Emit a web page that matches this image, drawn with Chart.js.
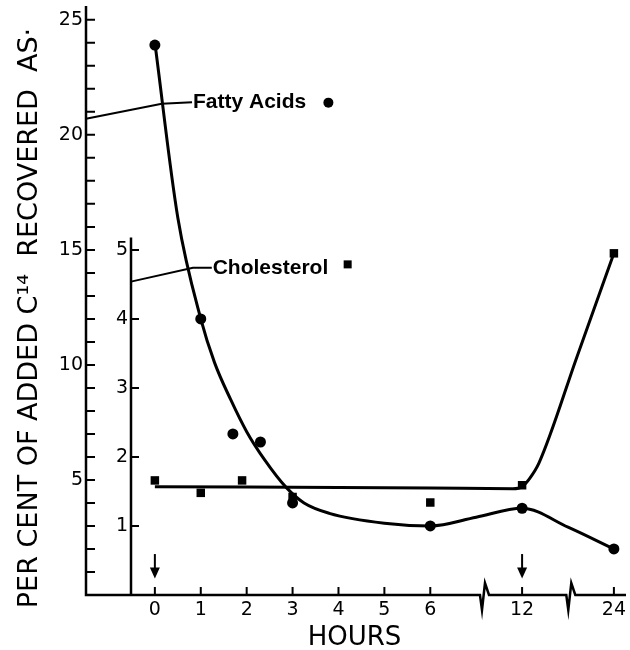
<!DOCTYPE html>
<html>
<head>
<meta charset="utf-8">
<script src="https://cdn.jsdelivr.net/npm/chart.js@4.4.0/dist/chart.umd.min.js"></script>
<style>
body { margin: 0; background: #fff; }
#wrap { width: 630px; height: 650px; }
</style>
</head>
<body>
<div id="wrap"><canvas id="chart"></canvas></div>
<script>
//hour axis, broken after 6 and after 12
const hourTickPos = [0, 1, 2, 3, 4, 5, 6, 8, 10];
const hourTickHours = [0, 1, 2, 3, 4, 5, 6, 12, 24];
const hourTickLabels = ['0', '1', '2', '3', '4', '5', '6', '12', '24'];

//y tick labels
const fattyTicks = [5, 10, 15, 20, 25];
const cholTicks = [1, 2, 3, 4, 5];

//measured points
const fattyHours = [0, 1, 1.7, 2.3, 3, 6, 12, 24];
const fattyValues = [23.9, 12.0, 7.0, 6.65, 4.0, 3.0, 3.77, 2.0];
const cholHours = [0, 1, 1.9, 3, 6, 12, 24];
const cholValues = [1.66, 1.48, 1.66, 1.42, 1.34, 1.59, 4.95];

//hand drawn curves
const fattyCurveHours = [0, 0.5, 1, 1.3, 1.65, 2, 2.4, 2.85, 3.25, 3.8, 5, 6, 9, 12, 18, 24];
const fattyCurveValues = [24, 16.4, 12, 10.1, 8.5, 7.1, 5.85, 4.7, 4.0, 3.55, 3.12, 3.0, 3.38, 3.77, 2.95, 2.0];
const cholCurveHours = [0, 6, 11.4, 12, 13, 14.2, 19.2, 24];
const cholCurveValues = [1.57, 1.55, 1.54, 1.57, 1.69, 1.91, 3.46, 4.95];

//injection arrows
const arrowHours = [0, 12];

const seriesNames = ['Fatty Acids', 'Cholesterol'];
const yTitle = 'PER CENT OF ADDED C\u00b9\u2074  RECOVERED  AS\u00b7';
const xTitle = 'HOURS';

const ink = '#000';
const tickFont = { family: 'DejaVu Sans', size: 19 };
const axisBreaks = [7.17, 9.05];

function hourToPos(h) {
    for (let i = 1; i < hourTickHours.length; i++) {
        if (h <= hourTickHours[i]) {
            const h0 = hourTickHours[i - 1], h1 = hourTickHours[i];
            const p0 = hourTickPos[i - 1], p1 = hourTickPos[i];
            return p0 + (h - h0) / (h1 - h0) * (p1 - p0);
        }
    }
    return hourTickPos[hourTickPos.length - 1];
}

function toPoints(hours, values) {
    return hours.map((h, i) => ({ x: hourToPos(h), y: values[i] }));
}

//no extra room for edge labels, the frame is fixed
function noEdgePadding(s) {
    s.paddingTop = 0;
    s.paddingBottom = 0;
    s.paddingLeft = 0;
    s.paddingRight = 0;
}

//axes, leaders, arrows and labels drawn like the paper figure
const paperAxes = {
    id: 'paperAxes',
    beforeDatasetsDraw(chart) {
        const { ctx, chartArea, scales: { x, y, y2 } } = chart;
        const base = chartArea.bottom;
        const outerX = y.right;
        const innerX = y2.right;
        ctx.save();
        ctx.strokeStyle = ink;
        ctx.fillStyle = ink;
        ctx.lineWidth = 2.5;

        ctx.beginPath();
        ctx.moveTo(outerX, chartArea.top);
        ctx.lineTo(outerX, base);
        axisBreaks.forEach(b => {
            const bx = x.getPixelForValue(b);
            ctx.lineTo(bx - 4, base);
            ctx.lineTo(bx - 2, base + 15);
            ctx.lineTo(bx + 1, base - 12);
            ctx.lineTo(bx + 5, base);
        });
        ctx.lineTo(chartArea.right + 2, base);
        ctx.stroke();

        ctx.beginPath();
        ctx.moveTo(innerX, base);
        ctx.lineTo(innerX, y2.getPixelForValue(5.18));
        ctx.stroke();

        //tick marks point inward
        ctx.lineWidth = 2;
        ctx.beginPath();
        y.ticks.forEach(t => {
            if (t.value > 0) {
                const py = y.getPixelForValue(t.value);
                ctx.moveTo(outerX, py);
                ctx.lineTo(outerX + 9, py);
            }
        });
        cholTicks.forEach(v => {
            const py = y2.getPixelForValue(v);
            ctx.moveTo(innerX, py);
            ctx.lineTo(innerX + 8, py);
        });
        hourTickPos.forEach(p => {
            const px = x.getPixelForValue(p);
            ctx.moveTo(px, base);
            ctx.lineTo(px, base - 8);
        });
        ctx.stroke();

        //arrows
        arrowHours.forEach(h => {
            const px = x.getPixelForValue(hourToPos(h));
            const top = y.getPixelForValue(1.78);
            const tip = y.getPixelForValue(0.72);
            ctx.beginPath();
            ctx.moveTo(px, top);
            ctx.lineTo(px, tip - 6);
            ctx.stroke();
            ctx.beginPath();
            ctx.moveTo(px - 5, tip - 11);
            ctx.lineTo(px + 5, tip - 11);
            ctx.lineTo(px, tip);
            ctx.closePath();
            ctx.fill();
        });

        //leader lines
        ctx.lineWidth = 2;
        ctx.beginPath();
        ctx.moveTo(outerX, y.getPixelForValue(20.7));
        ctx.lineTo(x.getPixelForValue(0.15), y.getPixelForValue(21.35));
        ctx.lineTo(x.getPixelForValue(0.81), y.getPixelForValue(21.42));
        ctx.moveTo(innerX, y2.getPixelForValue(4.54));
        ctx.lineTo(x.getPixelForValue(0.83), y2.getPixelForValue(4.74));
        ctx.lineTo(x.getPixelForValue(1.24), y2.getPixelForValue(4.74));
        ctx.stroke();
        ctx.restore();
    },
    afterDraw(chart) {
        const { ctx, scales: { x, y, y2 } } = chart;
        ctx.save();
        ctx.fillStyle = ink;

        ctx.font = 'bold 21px "Liberation Sans"';
        ctx.textAlign = 'left';
        ctx.textBaseline = 'middle';
        ctx.fillText(seriesNames[0], x.getPixelForValue(0.83), y.getPixelForValue(21.4));
        ctx.fillText(seriesNames[1], x.getPixelForValue(1.26), y2.getPixelForValue(4.74));

        ctx.beginPath();
        ctx.arc(x.getPixelForValue(3.78), y.getPixelForValue(21.4), 5, 0, Math.PI * 2);
        ctx.fill();
        ctx.fillRect(x.getPixelForValue(4.2) - 4, y2.getPixelForValue(4.79) - 4, 8, 8);

        ctx.font = '26px "DejaVu Sans"';
        ctx.textAlign = 'center';
        ctx.textBaseline = 'alphabetic';
        ctx.fillText(xTitle, x.getPixelForValue(4.35), 645);

        ctx.font = '27px "DejaVu Sans"';
        ctx.translate(37, 318);
        ctx.rotate(-Math.PI / 2);
        ctx.fillText(yTitle, 0, 0);
        ctx.restore();
    }
};

const chartCanvas = document.getElementById('chart');

let paperChart = new Chart(chartCanvas, {
    type: 'line',
    data: {
        datasets: [{
            label: seriesNames[0],
            data: toPoints(fattyHours, fattyValues),
            yAxisID: 'y',
            showLine: false,
            pointStyle: 'circle',
            pointRadius: 5.5,
            pointBackgroundColor: ink,
            pointBorderWidth: 0
        }, {
            label: seriesNames[1],
            data: toPoints(cholHours, cholValues),
            yAxisID: 'y2',
            showLine: false,
            pointStyle: 'rect',
            pointRadius: 6,
            pointBackgroundColor: ink,
            pointBorderWidth: 0
        }, {
            label: seriesNames[0] + ' curve',
            data: toPoints(fattyCurveHours, fattyCurveValues),
            yAxisID: 'y',
            borderColor: ink,
            borderWidth: 3,
            pointRadius: 0,
            cubicInterpolationMode: 'monotone'
        }, {
            label: seriesNames[1] + ' curve',
            data: toPoints(cholCurveHours, cholCurveValues),
            yAxisID: 'y2',
            borderColor: ink,
            borderWidth: 3,
            pointRadius: 0,
            cubicInterpolationMode: 'monotone'
        }]
    },
    options: {
        responsive: true,
        maintainAspectRatio: false,
        animation: false,
        layout: { padding: { top: 5, right: 5, bottom: 0, left: 0 } },
        plugins: {
            legend: { display: false },
            tooltip: { enabled: false }
        },
        scales: {
            x: {
                type: 'linear',
                min: -0.52,
                max: 10.22,
                afterBuildTicks: s => { s.ticks = hourTickPos.map(v => ({ value: v })); },
                afterFit: s => { s.height = 55; noEdgePadding(s); },
                ticks: {
                    autoSkip: false,
                    maxRotation: 0,
                    padding: 4,
                    color: ink,
                    font: tickFont,
                    callback: v => hourTickLabels[hourTickPos.indexOf(v)]
                },
                grid: { display: false, drawTicks: false },
                border: { display: false }
            },
            y: {
                position: 'left',
                weight: 1,
                min: 0,
                max: 25.6,
                afterBuildTicks: s => {
                    const t = [];
                    for (let v = 0; v <= 25; v++) t.push({ value: v });
                    s.ticks = t;
                },
                afterFit: s => { s.width = 86; noEdgePadding(s); },
                ticks: {
                    autoSkip: false,
                    padding: 3,
                    color: ink,
                    font: tickFont,
                    callback: v => fattyTicks.includes(v) ? String(v) : ''
                },
                grid: { display: false, drawTicks: false },
                border: { display: false }
            },
            y2: {
                position: 'left',
                weight: 0,
                min: 0,
                max: 25.6 / 3,
                afterBuildTicks: s => { s.ticks = cholTicks.map(v => ({ value: v })); },
                afterFit: s => { s.width = 45; noEdgePadding(s); },
                ticks: {
                    autoSkip: false,
                    padding: 3,
                    color: ink,
                    font: tickFont,
                    callback: v => String(v)
                },
                grid: { display: false, drawTicks: false },
                border: { display: false }
            }
        }
    },
    plugins: [paperAxes]
});
</script>
</body>
</html>
